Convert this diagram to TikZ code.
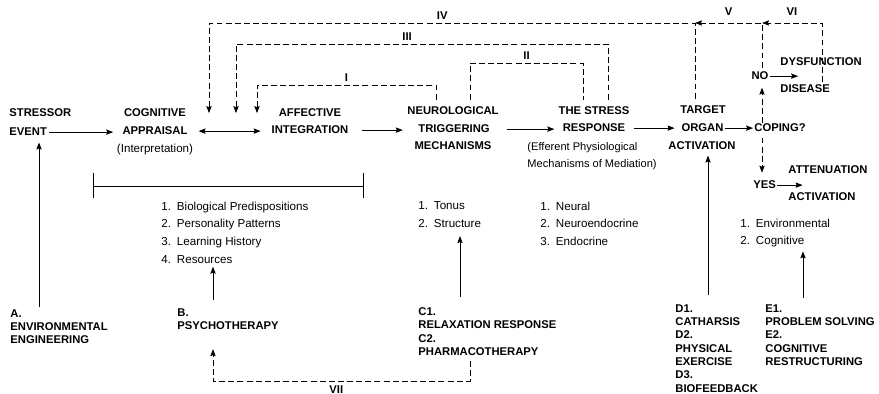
\documentclass[tikz,border=0pt]{standalone}
\usepackage{fontspec}
\setmainfont{Liberation Sans}
\usetikzlibrary{arrows.meta}

\tikzset{
	lbl/.style={font=\bfseries\fontsize{6.4}{7.6}\selectfont,inner sep=0pt},
	lst/.style={font=\fontsize{6.6}{10}\selectfont,inner sep=0pt,align=left,anchor=north west},
	blk/.style={lbl,align=left,anchor=north west},
	fb/.style={dash pattern=on 3.4pt off 1.8pt},
	tag/.style={lbl,inner sep=1.5pt}
}

\begin{document}
\begin{tikzpicture}[x=0.02cm,y=-0.02cm,line width=0.55pt,>={Stealth[length=4pt,width=3pt,inset=0.6pt]}]
		\useasboundingbox (0,0) rectangle (879,394);

		\node[lbl,anchor=base west] (stressor) at (9,117) {STRESSOR};
		\node[lbl,anchor=base west] (event) at (9,136) {EVENT};
		\node[lbl,anchor=base] (cognitive) at (155,117) {COGNITIVE};
		\node[lbl,anchor=base] (appraisal) at (155,135) {APPRAISAL};
		\node[lst,anchor=base] (interp) at (155,153) {(Interpretation)};
		\node[lbl,anchor=base] (affective) at (310,117) {AFFECTIVE};
		\node[lbl,anchor=base] (integration) at (310,134) {INTEGRATION};
		\node[lbl,anchor=base] (neuro) at (453,115) {NEUROLOGICAL};
		\node[lbl,anchor=base] (triggering) at (454,133) {TRIGGERING};
		\node[lbl,anchor=base] (mechanisms) at (453,150) {MECHANISMS};
		\node[lbl,anchor=base] (thestress) at (594,115) {THE STRESS};
		\node[lbl,anchor=base] (response) at (594,132) {RESPONSE};
		\node[lst,font=\fontsize{6.3}{9.6}\selectfont] (efferent) at (527,142) {(Efferent Physiological\\Mechanisms of Mediation)};
		\node[lbl,anchor=base] (target) at (703,114) {TARGET};
		\node[lbl,anchor=base] (organ) at (702.5,132) {ORGAN};
		\node[lbl,anchor=base] (activation) at (702,150) {ACTIVATION};
		\node[lbl,anchor=base west] (coping) at (754,132) {COPING?};
		\node[lbl,anchor=base] (no) at (760,80) {NO};
		\node[lbl,anchor=base west] (dysfunction) at (780,66) {DYSFUNCTION};
		\node[lbl,anchor=base west] (disease) at (780,93) {DISEASE};
		\node[lbl,anchor=base west] (yes) at (753,189) {YES};
		\node[lbl,anchor=base west] (attenuation) at (788,174) {ATTENUATION};
		\node[lbl,anchor=base west] (activ) at (788,201) {ACTIVATION};

		\node[lst] (lstB) at (161,201.5) {1.\enspace Biological Predispositions\\2.\enspace Personality Patterns\\3.\enspace Learning History\\4.\enspace Resources};
		\node[lst] (lstC) at (418,201.5) {1.\enspace Tonus\\2.\enspace Structure};
		\node[lst] (lstN) at (540,201.5) {1.\enspace Neural\\2.\enspace Neuroendocrine\\3.\enspace Endocrine};
		\node[lst] (lstE) at (740,218.5) {1.\enspace Environmental\\2.\enspace Cognitive};

		\node[blk] (envA) at (10,309) {A.\\ENVIRONMENTAL\\ENGINEERING};
		\node[blk] (psyB) at (177,308) {B.\\PSYCHOTHERAPY};
		\node[blk] (cblk) at (418,307) {C1.\\RELAXATION RESPONSE\\C2.\\PHARMACOTHERAPY};
		\node[blk] (dblk) at (675,304) {D1.\\CATHARSIS\\D2.\\PHYSICAL\\EXERCISE\\D3.\\BIOFEEDBACK};
		\node[blk] (eblk) at (765,304) {E1.\\PROBLEM SOLVING\\E2.\\COGNITIVE\\RESTRUCTURING};

		\draw[->,shorten <=1pt,shorten >=5pt] (event.east) -- (event.east -| appraisal.west);
		\draw[<->,shorten <=6pt,shorten >=6pt] (appraisal.east) -- (appraisal.east -| integration.west);
		\draw[->,shorten <=7.4pt,shorten >=2.3pt] (integration.east) -- (integration.east -| neuro.west);
		\draw[->,shorten <=4.5pt,shorten >=4.5pt] (triggering.east -| neuro.east) -- (triggering.east -| response.west);
		\draw[->,shorten <=4.5pt,shorten >=3.7pt] (response.east) -- (response.east -| organ.west);
		\draw[->,shorten <=0.8pt,shorten >=0.5pt] (organ.east) -- (organ.east -| coping.west);
		\draw[->,shorten <=0.5pt,shorten >=4pt] (no.east) -- (no.east -| disease.south);
		\draw[->,shorten <=0.5pt,shorten >=11pt] (yes.east) -- (yes.east -| activ.south);

		\draw (93,173) -- (93,198) (93,186) -- (363,186) (363,173) -- (363,198);

		\draw[->,shorten <=1pt,shorten >=3.4pt] (39,0 |- envA.north) -- (39,0 |- event.south);
		\draw[->,shorten <=4.5pt,shorten >=1.7pt] (213,0 |- psyB.north) -- (213,0 |- lstB.south);
		\draw[->,shorten <=5.7pt,shorten >=4.5pt] (460,0 |- cblk.north) -- (460,0 |- lstC.south);
		\draw[->,shorten <=5.1pt,shorten >=2.8pt] (708,0 |- dblk.north) -- (708,0 |- activation.south);
		\draw[->,shorten <=3.4pt,shorten >=2pt] (803,0 |- eblk.north) -- (803,0 |- lstE.south);

		\draw[fb,->,shorten <=4pt] (436,0 |- neuro.north) |- (257,85) node[tag,pos=.75,above]{I} -- (257,0 |- cognitive.east);
		\draw[fb,shorten <=4pt,shorten >=4pt] (470,0 |- neuro.north) |- (583,63) node[tag,pos=.75,above]{II} -- (583,0 |- thestress.north);
		\draw[fb,->,shorten <=4pt] (608,0 |- thestress.north) |- (236,44) node[tag,pos=.77,above]{III} -- (236,0 |- cognitive.east);
		\draw[fb,->,shorten <=4pt] (695,0 |- target.north) |- (209,23) node[tag,pos=.76,above]{IV} -- (209,0 |- cognitive.east);
		\draw[fb,->,shorten <=2.3pt] (762,0 |- no.north) |- (695,23) node[tag,pos=.75,above=2.5pt]{V};
		\draw[fb,->,shorten <=1.5pt] (822,0 |- disease.north) |- (762,23) node[tag,pos=.75,above=2.5pt]{VI};
		\draw[fb,->,shorten <=0.5pt,shorten >=4pt] (762,0 |- coping.north) -- (762,0 |- no.south);
		\draw[fb,->,shorten <=2.8pt,shorten >=4.5pt] (762,0 |- coping.south) -- (762,0 |- yes.north);
		\draw[fb,->,shorten <=2.8pt,shorten >=10.8pt] (470,0 |- cblk.south) |- (213,381) node[tag,pos=.76,below=1pt]{VII} -- (213,0 |- psyB.south);
\end{tikzpicture}
\end{document}
